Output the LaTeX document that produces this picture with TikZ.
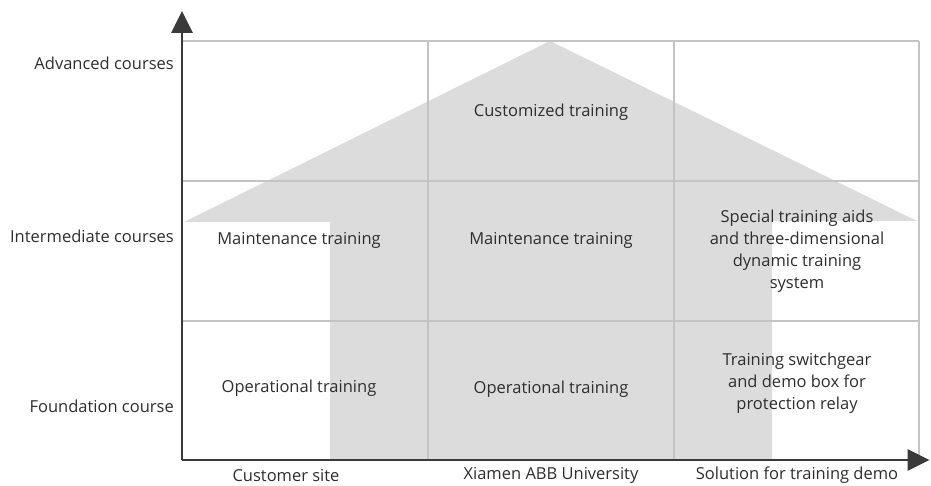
\documentclass[tikz,border=0pt]{standalone}
\usepackage{fontspec}
\setmainfont{Open Sans}
\usetikzlibrary{arrows.meta}
\definecolor{gridc}{HTML}{C4C4C6}
\definecolor{fillc}{HTML}{DCDCDD}
\definecolor{axisc}{HTML}{3A3A3A}
\definecolor{textc}{HTML}{2E2E2E}
\tikzset{
  lbl/.style={font=\fontsize{16.5}{22}\selectfont, text=textc, inner sep=0pt},
  cell/.style={lbl, align=center},
  gridline/.style={draw=gridc, line width=1.6pt},
  axisline/.style={draw=axisc, line width=2.8pt, -{Triangle[length=22pt,width=21pt]}}
}
\begin{document}
\begin{tikzpicture}[x=1pt,y=-1pt]
\useasboundingbox (0,0) rectangle (931,486);
% house-shaped arrow
\fill[fillc] (550,41) -- (917,221) -- (772,221) -- (772,460) -- (330,460) -- (330,222) -- (184,222) -- cycle;
% grid
\draw[gridline] (182,41) -- (919,41);
\draw[gridline] (182,181) -- (919,181);
\draw[gridline] (182,321) -- (919,321);
\draw[gridline] (428,41) -- (428,460);
\draw[gridline] (674,41) -- (674,460);
\draw[gridline] (919,41) -- (919,460);
% axes
\coordinate (o) at (182,460);
\coordinate (ytip) at (182,11);
\coordinate (xtip) at (929.5,460);
\draw[axisline] (o) -- (ytip);
\draw[axisline] (o) -- (xtip);
% y labels
\node[lbl, anchor=east] (ya) at (174,63) {Advanced courses};
\node[lbl, anchor=east] (yi) at (174,236) {Intermediate courses};
\node[lbl, anchor=east] (yf) at (174,406) {Foundation course};
% x labels
\node[lbl] (xc) at (286,475.5) {Customer site};
\node[lbl] (xx) at (551,475.5) {Xiamen ABB University};
\node[lbl] (xs) at (797,475.5) {Solution for training demo};
% cells
\node[cell] (c1) at (551,112) {Customized training};
\node[cell] (m1) at (299,240) {Maintenance training};
\node[cell] (m2) at (551,240) {Maintenance training};
\node[cell] (m3) at (797,251) {Special training aids\\and three-dimensional\\dynamic training\\system};
\node[cell] (o1) at (299,388) {Operational training};
\node[cell] (o2) at (551,389) {Operational training};
\node[cell] (o3) at (797,383) {Training switchgear\\and demo box for\\protection relay};
\end{tikzpicture}
\end{document}
